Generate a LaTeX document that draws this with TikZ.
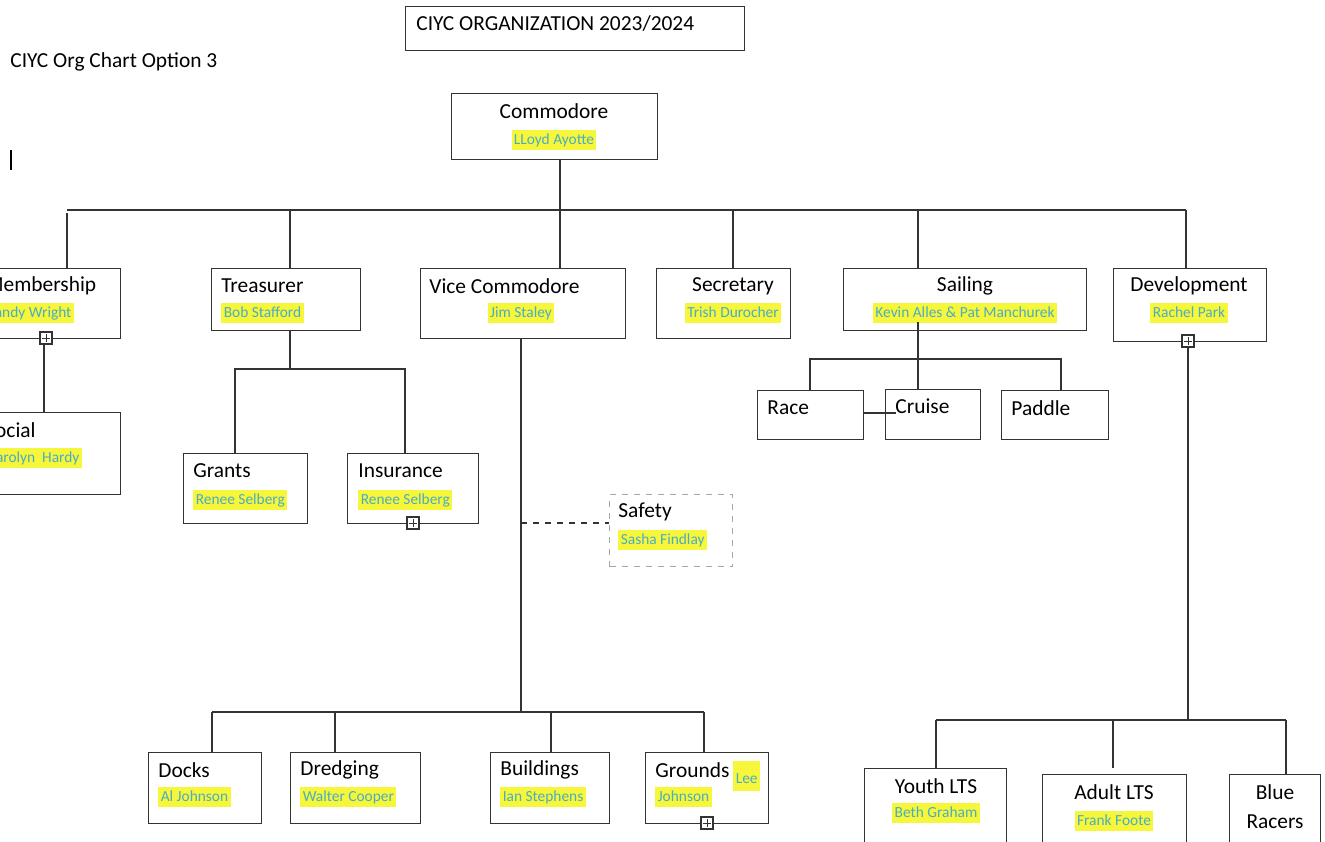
\documentclass[tikz,border=0pt]{standalone}
\usepackage{fontspec}
\setmainfont{Carlito}
\definecolor{hl}{HTML}{F6F63A}
\definecolor{nmc}{HTML}{4BACC6}
\definecolor{ln}{HTML}{333333}
\newcommand\rolefont{\fontsize{10.7}{12.5}\selectfont}
\newcommand\whofont{\fontsize{7.7}{9}\selectfont}
\tikzset{
  box/.style 2 args={draw=ln, line width=0.65pt, minimum width=#1*0.5pt, minimum height=#2*0.5pt, anchor=north west, inner sep=0},
  role/.style={font=\rolefont, inner sep=0, anchor=west},
  who/.style={font=\whofont, fill=hl, text=nmc, inner sep=1.2pt, text height=6pt, text depth=1.6pt, anchor=west},
  wire/.style={draw=ln, line width=0.65pt},
  expander/.style={draw=ln, fill=white, line width=0.6pt, minimum size=6pt, inner sep=0,
    path picture={\draw[line width=0.5pt] ([yshift=-1pt]path picture bounding box.north) -- ([yshift=1pt]path picture bounding box.south)
      ([xshift=1pt]path picture bounding box.west) -- ([xshift=-1pt]path picture bounding box.east);}}
}
\begin{document}
\begin{tikzpicture}[x=0.5pt,y=-0.5pt]
\useasboundingbox (0,0) rectangle (1325,841);
\fill[white] (0,0) rectangle (1325,841);
\clip (0,0) rectangle (1325,841);
% heading
\node[box={339}{44}] (head) at (405,6){};
\node[role] (headtxt) at (416,24){CIYC ORGANIZATION 2023/2024};
\node[role] (option) at (10,62){CIYC Org Chart Option 3};
\draw[line width=0.6pt] (11,150) -- (11,170);
% commodore
\node[box={206}{66}] (cmd) at (451,93){};
\node[role, anchor=center] at (554,111){Commodore};
\node[who, anchor=center] at (554,140){LLoyd Ayotte};
% first level
\node[box={150}{70}] (mem) at (-30,268){};
\node[role] at (-15,286){Membership};
\node[who] at (-15,313){Sandy Wright};
\node[box={149}{62}] (trs) at (211,268){};
\node[role] at (221,286){Treasurer};
\node[who] at (221,313){Bob Stafford};
\node[box={205}{70}] (vcm) at (420,268){};
\node[role] at (429,286){Vice Commodore};
\node[who, anchor=center] at (521,313){Jim Staley};
\node[box={134}{70}] (sec) at (656,268){};
\node[role, anchor=center] at (733,286){Secretary};
\node[who, anchor=center] at (733,313){Trish Durocher};
\node[box={243}{62}] (sai) at (843,268){};
\node[role, anchor=center] at (965,286){Sailing};
\node[who, anchor=center] at (965,313){Kevin Alles \& Pat Manchurek};
\node[box={153}{73}] (dev) at (1113,268){};
\node[role, anchor=center] at (1189,286){Development};
\node[who, anchor=center] at (1189,313){Rachel Park};
% top bus
\coordinate (top) at (560,210);
\coordinate (tm) at (67,210);
\coordinate (tt) at (290,210);
\coordinate (tv) at (560,210);
\coordinate (ts) at (733,210);
\coordinate (tl) at (918,210);
\coordinate (td) at (1186,210);
\draw[wire] (cmd.south -| top) -- (top);
\draw[wire] (tm) -- (td);
\draw[wire] ([yshift=-1.5pt]tm) -- (tm |- mem.north);
\draw[wire] (tt) -- (tt |- trs.north);
\draw[wire] (tv) -- (tv |- vcm.north);
\draw[wire] (ts) -- (ts |- sec.north);
\draw[wire] (tl) -- (tl |- sai.north);
\draw[wire] (td) -- (td |- dev.north);
% membership
\node[box={150}{82}] (soc) at (-30,412){};
\node[role] at (-15,430){Social};
\node[who] at (-15,458){Carolyn~~Hardy};
\node[expander] (memx) at (46,338){};
\draw[wire] ([xshift=-1pt]memx.center) -- ([xshift=-1pt]memx.center |- soc.north);
\node[expander] at (46,338){};
% treasurer
\node[box={124}{70}] (grt) at (183,453){};
\node[role] at (193,471){Grants};
\node[who] at (193,500){Renee Selberg};
\node[box={131}{70}] (ins) at (347,453){};
\node[role] at (358,471){Insurance};
\node[who] at (358,500){Renee Selberg};
\node[expander] (insx) at (413,523){};
\coordinate (tb) at (290,369);
\coordinate (tbl) at (235,369);
\coordinate (tbr) at (405,369);
\draw[wire] (tb |- trs.south) -- (tb);
\draw[wire] (tbl |- grt.north) -- (tbl) -- (tbr) -- (tbr |- ins.north);
% vice commodore
\coordinate (vb) at (521,712);
\coordinate (vd) at (212,712);
\coordinate (vr) at (335,712);
\coordinate (vu) at (551,712);
\coordinate (vg) at (704,712);
\coordinate (vs) at (521,523);
\draw[wire] (vb |- vcm.south) -- (vb);
\draw[wire] (vd) -- (vg);
\node[box={113}{71}] (dck) at (148,752){};
\node[role] at (158,770){Docks};
\node[who] at (158,797){Al Johnson};
\node[box={130}{71}] (drd) at (290,752){};
\node[role] at (300,770){Dredging};
\node[who] at (300,797){Walter Cooper};
\node[box={119}{71}] (bld) at (490,752){};
\node[role] at (500,770){Buildings};
\node[who] at (500,797){Ian Stephens};
\node[box={123}{71}] (grd) at (645,752){};
\node[role] at (655,770){Grounds};
\node[who, text height=10pt, text depth=3pt] at (733,776){Lee};
\node[who] at (655,797){Johnson};
\node[expander] (grdx) at (707,823){};
\draw[wire] (vd) -- (vd |- dck.north);
\draw[wire] (vr) -- (vr |- drd.north);
\draw[wire] (vu) -- (vu |- bld.north);
\draw[wire] (vg) -- (vg |- grd.north);
% safety
\node[box={123}{72}, draw=gray!70, dashed] (saf) at (609,494){};
\node[role] at (618,512){Safety};
\node[who] at (618,540){Sasha Findlay};
\draw[wire, dashed] (vs) -- (vs -| saf.west);
% sailing
\node[box={106}{49}] (rce) at (757,390){};
\node[role] at (767,408){Race};
\node[box={95}{50}] (cru) at (885,389){};
\node[role] at (895,406){Cruise};
\node[box={107}{49}] (pad) at (1001,390){};
\node[role] at (1011,408){Paddle};
\coordinate (sb) at (918,322);
\coordinate (sbl) at (810,359);
\coordinate (sbr) at (1061,359);
\coordinate (rc) at (863,413);
\draw[wire] (sb) -- (sb |- cru.north);
\draw[wire] (sbl |- rce.north) -- (sbl) -- (sbr) -- (sbr |- pad.north);
\draw[wire] (rc) -- ([xshift=5.5pt]rc -| cru.west);
% development
\node[box={142}{100}] (yth) at (864,768){};
\node[role, anchor=center] at (936,786){Youth LTS};
\node[who, anchor=center] at (936,813){Beth Graham};
\node[box={144}{100}] (adl) at (1042,774){};
\node[role, anchor=center] at (1114,792){Adult LTS};
\node[who, anchor=center] at (1114,821){Frank Foote};
\node[box={91}{100}] (blu) at (1229,774){};
\node[role, anchor=center] at (1275,792){Blue};
\node[role, anchor=center] at (1275,822){Racers};
\coordinate (db) at (1188,720);
\coordinate (dy) at (936,720);
\coordinate (da) at (1113,720);
\coordinate (dl) at (1286,720);
\node[expander] (devx) at (1188,341){};
\draw[wire] (devx.center) -- (db);
\node[expander] at (1188,341){};
\draw[wire] (dy) -- (dl);
\draw[wire] (dy) -- (dy |- yth.north);
\draw[wire] (da) -- ([yshift=3pt]da |- adl.north);
\draw[wire] (dl) -- (dl |- blu.north);
\end{tikzpicture}
\end{document}
